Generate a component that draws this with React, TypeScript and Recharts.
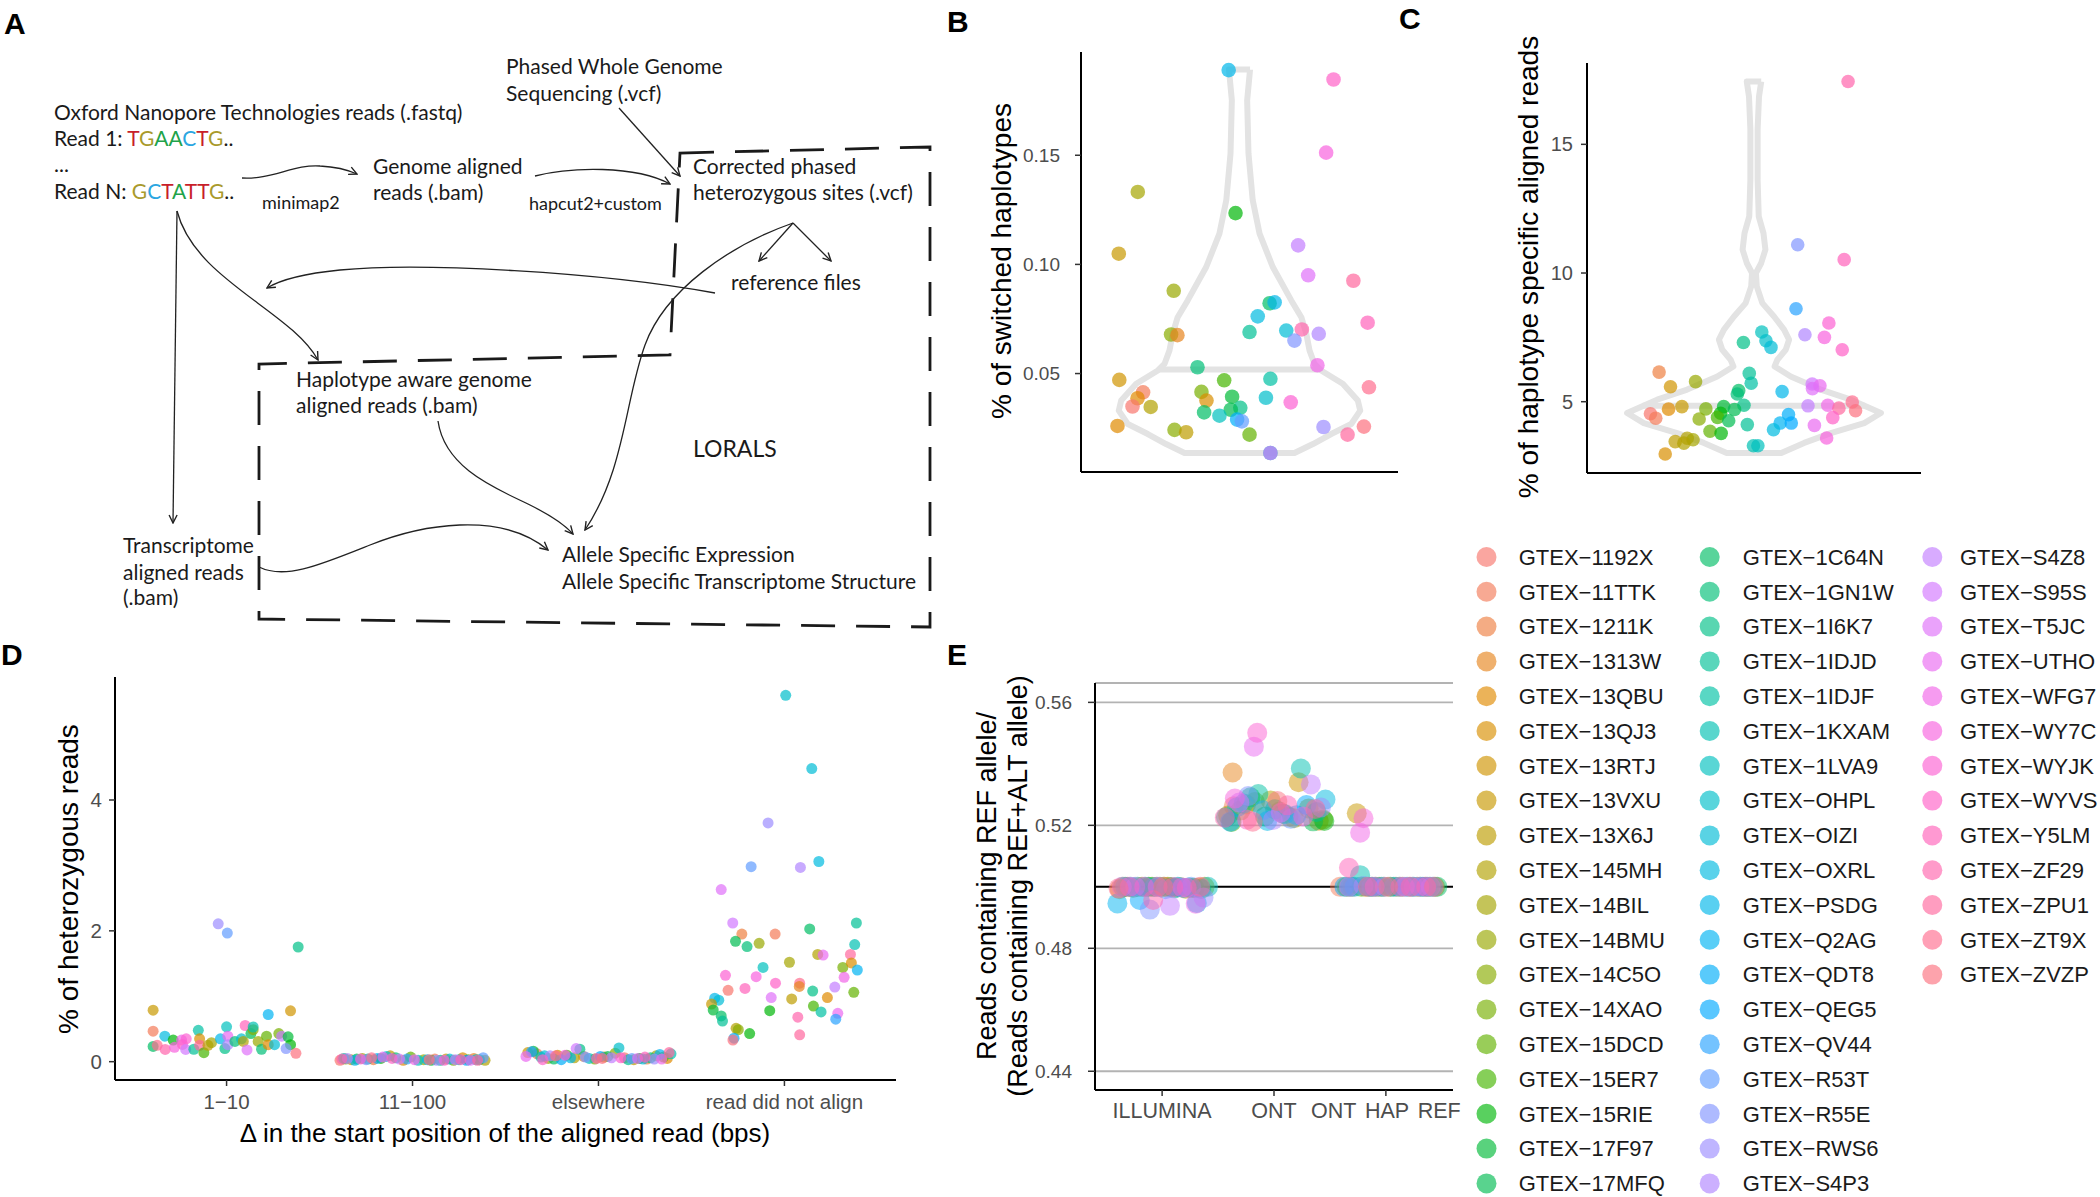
import React from "react";
import {
  ScatterChart,
  Scatter,
  XAxis,
  YAxis,
  CartesianGrid,
  ReferenceLine,
} from "recharts";

// ---------------------------------------------------------------------------
// Shared style tokens
// ---------------------------------------------------------------------------

const FONT = "'Liberation Sans', Arial, Helvetica, sans-serif";
const DIAGRAM_FONT = "Lato, 'Liberation Sans', Arial, sans-serif";
const TICK_GRAY = "#4d4d4d";
const VIOLIN_GRAY = "#e3e3e3";
const AXIS_LINE = { stroke: "#000", strokeWidth: 2 };
const TICK_LINE = { stroke: "#333", strokeWidth: 1.5 };

// ---------------------------------------------------------------------------
// Data
// ---------------------------------------------------------------------------

const SAMPLES = [
  "GTEX-1192X", "GTEX-11TTK", "GTEX-1211K", "GTEX-1313W", "GTEX-13QBU", "GTEX-13QJ3", "GTEX-13RTJ",
  "GTEX-13VXU", "GTEX-13X6J", "GTEX-145MH", "GTEX-14BIL", "GTEX-14BMU", "GTEX-14C5O", "GTEX-14XAO",
  "GTEX-15DCD", "GTEX-15ER7", "GTEX-15RIE", "GTEX-17F97", "GTEX-17MFQ",
  "GTEX-1C64N", "GTEX-1GN1W", "GTEX-1I6K7", "GTEX-1IDJD", "GTEX-1IDJF", "GTEX-1KXAM", "GTEX-1LVA9",
  "GTEX-OHPL", "GTEX-OIZI", "GTEX-OXRL", "GTEX-PSDG", "GTEX-Q2AG", "GTEX-QDT8", "GTEX-QEG5",
  "GTEX-QV44", "GTEX-R53T", "GTEX-R55E", "GTEX-RWS6", "GTEX-S4P3",
  "GTEX-S4Z8", "GTEX-S95S", "GTEX-T5JC", "GTEX-UTHO", "GTEX-WFG7", "GTEX-WY7C", "GTEX-WYJK",
  "GTEX-WYVS", "GTEX-Y5LM", "GTEX-ZF29", "GTEX-ZPU1", "GTEX-ZT9X", "GTEX-ZVZP",
];
const LEGEND_COLUMN_SIZES = [19, 19, 13];

// Panel B: [x jitter, % switched haplotypes, sample]
const B_POINTS = [
  [0.959, 0.189, 29], [1.356, 0.1847, 45], [1.328, 0.1512, 43], [0.615, 0.1332, 10], [0.985, 0.1235, 16],
  [0.543, 0.1049, 7], [1.222, 0.1087, 38], [1.26, 0.095, 40], [1.431, 0.0925, 48], [0.751, 0.0879, 11],
  [1.114, 0.0822, 19], [1.133, 0.0826, 29], [1.069, 0.0762, 28], [1.485, 0.0733, 46], [0.741, 0.0679, 12],
  [0.765, 0.0676, 3], [1.038, 0.069, 22], [1.177, 0.0697, 27], [1.236, 0.0702, 47], [1.208, 0.0651, 35],
  [1.3, 0.0682, 37], [0.841, 0.0529, 20], [1.295, 0.0538, 42], [0.545, 0.0471, 6], [0.942, 0.0469, 15],
  [1.117, 0.0476, 23], [1.49, 0.0437, 49], [0.635, 0.0414, 1], [0.856, 0.0416, 13], [0.614, 0.0387, 4],
  [0.875, 0.0376, 5], [0.972, 0.0394, 17], [1.1, 0.0389, 26], [1.194, 0.0368, 44], [0.595, 0.0349, 0],
  [0.664, 0.0347, 9], [1.003, 0.0343, 21], [0.967, 0.0334, 18], [0.866, 0.0322, 19], [0.924, 0.0307, 25],
  [0.991, 0.0289, 31], [1.009, 0.0281, 34], [0.538, 0.026, 4], [1.318, 0.0255, 36], [1.471, 0.0257, 50],
  [0.754, 0.0242, 12], [0.798, 0.0231, 8], [1.409, 0.022, 48], [1.038, 0.022, 14], [1.117, 0.0136, 24],
  [1.117, 0.0136, 39],
];
// violin outline: [y, half width]
const B_VIOLIN = [
  [0.1893, 0.04], [0.1752, 0.029], [0.1508, 0.034], [0.1294, 0.05], [0.1141, 0.076], [0.0988, 0.126],
  [0.0835, 0.196], [0.0758, 0.234], [0.0682, 0.253], [0.0606, 0.265], [0.0544, 0.284], [0.0514, 0.309],
  [0.0453, 0.391], [0.0376, 0.448], [0.033, 0.457], [0.0269, 0.423], [0.0223, 0.347], [0.0177, 0.278],
  [0.0136, 0.208],
];
const B_MEDIAN = [0.0518, 0.305];
const B_TICKS = [0.05, 0.1, 0.15];

// Panel C: [x jitter, % haplotype specific aligned reads, sample]
const C_POINTS = [
  [1.338, 17.44, 47], [1.157, 11.1, 35], [1.324, 10.52, 46], [1.151, 8.61, 33], [1.269, 8.06, 44],
  [1.028, 7.71, 25], [1.183, 7.6, 37], [1.253, 7.5, 43], [1.043, 7.37, 26], [0.962, 7.3, 21],
  [1.061, 7.11, 27], [1.317, 7.02, 45], [0.659, 6.15, 2], [0.983, 6.1, 22], [0.79, 5.78, 11],
  [0.99, 5.72, 23], [0.7, 5.58, 6], [1.209, 5.69, 39], [1.237, 5.62, 41], [1.21, 5.51, 40],
  [0.945, 5.43, 19], [0.94, 5.3, 20], [1.101, 5.39, 29], [1.353, 4.99, 49], [1.365, 4.65, 50],
  [0.741, 4.81, 7], [1.194, 4.84, 38], [1.265, 4.86, 42], [1.305, 4.75, 48], [0.964, 4.86, 21],
  [0.891, 4.81, 17], [0.827, 4.72, 13], [0.693, 4.71, 4], [0.93, 4.7, 18], [0.628, 4.53, 0],
  [1.283, 4.38, 45], [0.647, 4.36, 1], [0.88, 4.55, 16], [0.869, 4.39, 15], [1.124, 4.5, 31],
  [0.909, 4.26, 18], [0.803, 4.33, 12], [1.094, 4.17, 30], [1.134, 4.17, 32], [0.976, 4.11, 22],
  [1.217, 4.08, 41], [1.07, 3.91, 28], [0.842, 3.85, 14], [0.882, 3.77, 16], [1.261, 3.59, 43],
  [0.76, 3.58, 9], [0.781, 3.52, 10], [0.717, 3.45, 8], [0.748, 3.39, 9], [0.998, 3.29, 24],
  [1.014, 3.29, 25], [0.681, 2.97, 5],
];
const C_VIOLIN = [
  [17.44, 0.026], [16.86, 0.018], [15.57, 0.013], [13.63, 0.013], [12.2, 0.017], [11.55, 0.034],
  [10.91, 0.041], [10.39, 0.026], [10.0, 0.007], [9.48, 0.01], [8.83, 0.03], [8.31, 0.072],
  [7.8, 0.108], [7.41, 0.126], [7.02, 0.114], [6.63, 0.084], [6.37, 0.074], [5.98, 0.132],
  [5.47, 0.24], [5.08, 0.348], [4.56, 0.456], [4.17, 0.396], [3.78, 0.276], [3.4, 0.18], [3.01, 0.098],
];
const C_MEDIAN = [4.84, 0.4];
const C_TICKS = [5, 10, 15];

// Panel D categories
const D_CATEGORIES = ["1\u221210", "11\u2212100", "elsewhere", "read did not align"];
const D_TICKS = [0, 2, 4];
// "1-10": [x jitter, %, sample]
const D_NEAR = [
  [0.605, 0.787, 7], [0.605, 0.467, 1], [0.605, 0.233, 19], [0.627, 0.25, 49], [0.668, 0.39, 28],
  [0.67, 0.188, 47], [0.713, 0.33, 16], [0.72, 0.22, 43], [0.758, 0.33, 42], [0.763, 0.264, 45],
  [0.78, 0.188, 39], [0.783, 0.35, 44], [0.824, 0.19, 22], [0.848, 0.48, 23], [0.855, 0.35, 5],
  [0.855, 0.25, 48], [0.878, 0.137, 15], [0.9, 0.25, 8], [0.919, 0.29, 10], [0.955, 2.108, 36],
  [0.967, 0.35, 29], [0.991, 0.2, 21], [1.0, 0.533, 25], [1.004, 1.966, 34], [1.007, 0.39, 41],
  [1.007, 0.26, 37], [1.045, 0.31, 20], [1.08, 0.35, 26], [1.09, 0.31, 9], [1.1, 0.553, 46],
  [1.11, 0.18, 40], [1.131, 0.43, 18], [1.143, 0.49, 12], [1.143, 0.53, 24], [1.17, 0.31, 11],
  [1.188, 0.19, 20], [1.215, 0.39, 14], [1.224, 0.721, 30], [1.224, 0.26, 4], [1.258, 0.26, 27],
  [1.281, 0.43, 13], [1.296, 0.39, 38], [1.331, 0.38, 17], [1.344, 0.777, 6], [1.344, 0.26, 16],
  [1.32, 0.2, 35], [1.373, 0.127, 50], [1.385, 1.753, 21],
];
// "11-100": jitter offsets and values, one per sample
const D_MID_X = [
  -0.39, 0.12, -0.21, 0.33, -0.05, 0.27, -0.33, 0.18, -0.12, 0.39,
  -0.27, 0.06, -0.36, 0.22, -0.01, 0.3, -0.17, 0.1, -0.3, 0.36,
  -0.09, 0.15, -0.24, 0.25, -0.37, 0.03, 0.34, -0.14, 0.2, -0.31,
  0.08, -0.19, 0.29, -0.03, 0.38, -0.25, 0.13, -0.35, 0.23, -0.07,
  0.31, -0.16, 0.01, -0.28, 0.17, -0.11, 0.26, -0.38, 0.35, -0.22, 0.09,
];
const D_MID_Y = [
  0.02, 0.04, 0.03, 0.05, 0.02, 0.06, 0.03, 0.04, 0.09, 0.02,
  0.05, 0.03, 0.04, 0.02, 0.07, 0.03, 0.05, 0.02, 0.04, 0.03,
  0.06, 0.02, 0.04, 0.03, 0.05, 0.02, 0.03, 0.08, 0.04, 0.02,
  0.03, 0.05, 0.02, 0.04, 0.06, 0.03, 0.02, 0.05, 0.03, 0.04,
  0.02, 0.07, 0.03, 0.04, 0.02, 0.05, 0.03, 0.04, 0.02, 0.06, 0.03,
];
// "elsewhere"
const D_ELSE_X = [
  0.14, -0.33, 0.26, -0.08, 0.37, -0.22, 0.03, -0.38, 0.19, -0.13,
  0.31, -0.27, 0.09, -0.02, 0.35, -0.17, 0.22, -0.35, 0.05, -0.24,
  0.28, -0.1, 0.16, -0.31, 0.39, -0.05, 0.11, -0.29, 0.24, -0.15,
  0.33, -0.2, 0.01, -0.36, 0.18, -0.07, 0.3, -0.26, 0.07, -0.12,
  0.21, -0.39, 0.34, -0.18, 0.12, -0.3, 0.25, -0.01, 0.38, -0.23, 0.02,
];
const D_ELSE_Y = [
  0.06, 0.12, 0.04, 0.08, 0.05, 0.1, 0.07, 0.14, 0.03, 0.06,
  0.09, 0.05, 0.13, 0.04, 0.07, 0.1, 0.05, 0.16, 0.08, 0.04,
  0.06, 0.19, 0.03, 0.07, 0.12, 0.05, 0.21, 0.09, 0.04, 0.06,
  0.11, 0.03, 0.08, 0.15, 0.05, 0.07, 0.04, 0.09, 0.06, 0.2,
  0.05, 0.08, 0.04, 0.1, 0.06, 0.03, 0.07, 0.05, 0.14, 0.09, 0.05,
];
// "read did not align": [x jitter, %, sample]
const D_UNALIGNED = [
  [4.007, 5.6, 26], [4.147, 4.48, 27], [3.912, 3.65, 36], [3.821, 2.98, 34], [4.086, 2.97, 37],
  [4.185, 3.06, 28], [3.66, 2.63, 40], [3.722, 2.12, 39], [3.771, 1.95, 2], [3.95, 1.95, 1],
  [3.737, 1.84, 18], [3.799, 1.76, 20], [3.864, 1.81, 11], [4.136, 2.03, 19], [4.387, 2.12, 22],
  [4.378, 1.79, 24], [4.179, 1.64, 9], [4.208, 1.63, 41], [4.355, 1.64, 48], [4.027, 1.52, 10],
  [4.314, 1.44, 13], [4.36, 1.51, 5], [4.392, 1.4, 30], [3.885, 1.44, 25], [3.683, 1.32, 44],
  [3.848, 1.3, 43], [4.321, 1.29, 42], [3.952, 1.2, 45], [4.082, 1.2, 49], [4.08, 1.15, 3],
  [3.697, 1.09, 0], [3.788, 1.12, 46], [4.152, 1.08, 21], [4.271, 1.14, 38], [4.373, 1.06, 14],
  [3.929, 0.98, 40], [4.039, 0.96, 8], [4.231, 0.98, 4], [3.625, 0.97, 29], [3.647, 0.94, 27],
  [3.608, 0.88, 7], [4.156, 0.85, 15], [3.617, 0.79, 17], [3.921, 0.78, 16], [4.197, 0.76, 23],
  [4.287, 0.74, 41], [3.66, 0.7, 19], [4.072, 0.68, 47], [4.276, 0.65, 33], [3.667, 0.62, 22],
  [3.74, 0.51, 9], [3.752, 0.49, 12], [3.813, 0.43, 16], [3.729, 0.36, 31], [3.723, 0.33, 50],
  [4.082, 0.41, 48],
];

// Panel E: REF / (REF + ALT)
const E_CATEGORIES = ["ILLUMINA", "ONT", "ONT HAP REF"];
const E_TICKS = [0.44, 0.48, 0.52, 0.56];
const E_ILLUMINA_X = [
  -0.31, 0.12, -0.05, 0.27, -0.38, 0.05, 0.33, -0.18, 0.21, -0.09,
  0.38, -0.26, 0.02, 0.16, -0.35, 0.29, -0.12, 0.08, -0.22, 0.35,
  -0.02, 0.24, -0.33, 0.11, -0.15, 0.41, -0.07, 0.19, -0.28, 0.31,
  -0.4, 0.14, -0.2, 0.03, 0.26, -0.11, 0.37, -0.24, 0.07, -0.36,
  0.18, -0.04, 0.3, -0.16, 0.22, -0.29, 0.1, -0.08, 0.34, -0.39, 0.01,
];
const E_ILLUMINA_Y = [
  0.5, 0.4998, 0.5, 0.4996, 0.4992, 0.5, 0.4998, 0.5, 0.4994, 0.5,
  0.5, 0.4997, 0.5, 0.4999, 0.5, 0.4996, 0.5, 0.4999, 0.5, 0.4993,
  0.5, 0.4998, 0.5, 0.4995, 0.5, 0.5, 0.4999, 0.4996, 0.5, 0.4947,
  0.4946, 0.5, 0.4957, 0.4992, 0.5, 0.4926, 0.4965, 0.5, 0.4938, 0.5,
  0.4998, 0.5, 0.4945, 0.5, 0.4997, 0.5, 0.4999, 0.4957, 0.5, 0.4995, 0.5,
];
const E_ONT_X = [
  0.05, -0.36, 0.13, -0.37, 0.4, -0.25, 0.22, -0.41, 0.31, -0.03,
  0.18, -0.3, 0.44, -0.17, 0.08, -0.38, 0.45, -0.08, 0.35, -0.21,
  0.01, -0.43, 0.38, -0.14, 0.24, -0.27, 0.1, -0.33, 0.46, -0.06,
  0.2, -0.39, 0.29, -0.1, 0.15, -0.23, 0.42, -0.01, 0.33, -0.31,
  0.06, -0.18, 0.26, -0.35, -0.15, -0.24, 0.12, -0.44, 0.37, -0.19, 0.03,
];
const E_ONT_Y = [
  0.5245, 0.5262, 0.5228, 0.5372, 0.5215, 0.5268, 0.534, 0.5232, 0.5255, 0.5281,
  0.5223, 0.5248, 0.5219, 0.5276, 0.5238, 0.5211, 0.5214, 0.5229, 0.5213, 0.5291,
  0.5252, 0.5226, 0.5243, 0.5302, 0.5385, 0.5271, 0.5236, 0.5259, 0.5284, 0.5214,
  0.5233, 0.5212, 0.5266, 0.5249, 0.5221, 0.5295, 0.5258, 0.5217, 0.5333, 0.5274,
  0.5241, 0.5456, 0.5229, 0.5287, 0.5501, 0.5218, 0.5265, 0.5225, 0.5253, 0.5212, 0.5279,
];
const E_HAP_X = [
  -0.3, -0.41, 0.21, -0.06, 0.35, -0.18, 0.09, -0.26, 0.44, -0.12,
  0.28, -0.35, 0.15, -0.02, 0.39, -0.22, 0.04, 0.31, -0.09, 0.46,
  -0.15, 0.24, -0.32, 0.12, -0.23, 0.37, -0.04, 0.19, -0.28, 0.42,
  0.07, -0.37, 0.33, -0.13, 0.25, -0.2, 0.4, -0.01, 0.17, -0.33,
  0.3, -0.1, -0.23, -0.2, 0.13, 0.36, -0.33, 0.22, -0.16, 0.43, 0.02,
];
const E_HAP_Y = [
  0.5, 0.5, 0.5, 0.5, 0.5, 0.5, 0.5, 0.5239, 0.5, 0.5,
  0.5, 0.5, 0.5, 0.5, 0.5, 0.5, 0.5, 0.5, 0.5, 0.5,
  0.5, 0.5, 0.5, 0.5, 0.5038, 0.5, 0.5, 0.5, 0.5, 0.5,
  0.5, 0.5, 0.5, 0.5, 0.5, 0.5003, 0.5, 0.5, 0.5, 0.5,
  0.5, 0.5, 0.5176, 0.5223, 0.5, 0.5, 0.5062, 0.5, 0.5, 0.5, 0.5,
];

// ---------------------------------------------------------------------------
// Helpers
// ---------------------------------------------------------------------------

// ggplot2 default hue palette (hcl, c = 100, l = 65)
function hclToHex(h: number, c: number, l: number): string {
  const hr = (h * Math.PI) / 180;
  const U = c * Math.cos(hr);
  const V = c * Math.sin(hr);
  const Xn = 95.047, Yn = 100, Zn = 108.883;
  const Y = l > 7.999592 ? Yn * Math.pow((l + 16) / 116, 3) : (Yn * l) / 903.3;
  const t = Xn + 15 * Yn + 3 * Zn;
  const u = U / (13 * l) + (4 * Xn) / t;
  const v = V / (13 * l) + (9 * Yn) / t;
  const X = (9 * Y * u) / (4 * v);
  const Z = -X / 3 - 5 * Y + (3 * Y) / v;
  const x = X / 100, y = Y / 100, z = Z / 100;
  const lin = [
    3.240479 * x - 1.53715 * y - 0.498535 * z,
    -0.969256 * x + 1.875992 * y + 0.041556 * z,
    0.055648 * x - 0.204043 * y + 1.057311 * z,
  ];
  return (
    "#" +
    lin
      .map((ch) => {
        const g = ch <= 0.0031308 ? 12.92 * ch : 1.055 * Math.pow(ch, 1 / 2.4) - 0.055;
        const n = Math.round(Math.min(1, Math.max(0, g)) * 255);
        return n.toString(16).padStart(2, "0");
      })
      .join("")
  );
}

const PALETTE = SAMPLES.map((_, i) => hclToHex(15 + (360 * i) / SAMPLES.length, 100, 65));

type Pt = { x: number; y: number; color: string };

const fromRows = (rows: number[][]): Pt[] =>
  rows.map(([x, y, s]) => ({ x, y, color: PALETTE[s] }));

const fromColumns = (center: number, xs: number[], ys: number[]): Pt[] =>
  xs.map((dx, s) => ({ x: center + dx, y: ys[s], color: PALETTE[s] }));

function violinOutline(rows: number[][]) {
  const right = rows.map(([y, w]) => ({ x: 1 + w, y }));
  const left = [...rows].reverse().map(([y, w]) => ({ x: 1 - w, y }));
  return [...right, ...left, right[0]];
}

const medianLine = ([y, w]: number[]) => [
  { x: 1 - w, y },
  { x: 1 + w, y },
];

const makeDot = (r: number, opacity: number) => (p: any) => {
  if (p.cx == null || p.cy == null) return <g />;
  return <circle cx={p.cx} cy={p.cy} r={r} fill={p.payload.color} fillOpacity={opacity} />;
};
const NoDot = () => <g />;

type Plot = { l: number; t: number; r: number; b: number };
const PAD = 16;
const Y_AXIS_W = 90;

function frameStyle(plot: Plot, xh: number) {
  return {
    left: plot.l - Y_AXIS_W - PAD,
    top: plot.t - PAD,
    width: plot.r - plot.l + Y_AXIS_W + 2 * PAD,
    height: plot.b - plot.t + xh + 2 * PAD,
  };
}

// ---------------------------------------------------------------------------
// B / C — violin with jittered samples
// ---------------------------------------------------------------------------

type ViolinPanelProps = {
  plot: Plot;
  yDomain: [number, number];
  yTicks: number[];
  tickFont: number;
  tickGap: number;
  digits: number;
  points: Pt[];
  outline: { x: number; y: number }[];
  median: { x: number; y: number }[];
  radius: number;
};

function ViolinPanel(props: ViolinPanelProps) {
  const { plot, yDomain, yTicks, tickFont, tickGap, digits, points, outline, median, radius } = props;
  const f = frameStyle(plot, 2);
  return (
    <div style={{ position: "absolute", left: f.left, top: f.top }}>
      <ScatterChart width={f.width} height={f.height} margin={{ top: PAD, right: PAD, bottom: PAD, left: PAD }}>
        <XAxis
          type="number"
          dataKey="x"
          domain={[0.4, 1.6]}
          allowDataOverflow
          tick={false}
          tickLine={false}
          axisLine={AXIS_LINE}
          height={2}
        />
        <YAxis
          type="number"
          dataKey="y"
          domain={yDomain}
          allowDataOverflow
          ticks={yTicks}
          interval={0}
          width={Y_AXIS_W}
          tickSize={6}
          tickMargin={tickGap}
          tickLine={TICK_LINE}
          axisLine={AXIS_LINE}
          tickFormatter={(v: number) => v.toFixed(digits)}
          tick={{ fontSize: tickFont, fill: TICK_GRAY, fontFamily: FONT }}
        />
        <Scatter
          data={outline}
          fill={VIOLIN_GRAY}
          line={{ stroke: VIOLIN_GRAY, strokeWidth: 6, strokeLinejoin: "round" }}
          shape={NoDot}
          isAnimationActive={false}
        />
        <Scatter
          data={median}
          fill={VIOLIN_GRAY}
          line={{ stroke: VIOLIN_GRAY, strokeWidth: 6 }}
          shape={NoDot}
          isAnimationActive={false}
        />
        <Scatter data={points} shape={makeDot(radius, 0.7)} isAnimationActive={false} />
      </ScatterChart>
    </div>
  );
}

// ---------------------------------------------------------------------------
// D — heterozygous reads by start-position shift
// ---------------------------------------------------------------------------

const D_PLOT: Plot = { l: 115, t: 677, r: 896, b: 1080 };

function PanelD() {
  const f = frameStyle(D_PLOT, 40);
  const points = [
    ...fromRows(D_NEAR),
    ...fromColumns(2, D_MID_X, D_MID_Y),
    ...fromColumns(3, D_ELSE_X, D_ELSE_Y),
    ...fromRows(D_UNALIGNED),
  ];
  return (
    <div style={{ position: "absolute", left: f.left, top: f.top }}>
      <ScatterChart width={f.width} height={f.height} margin={{ top: PAD, right: PAD, bottom: PAD, left: PAD }}>
        <XAxis
          type="number"
          dataKey="x"
          domain={[0.4, 4.6]}
          allowDataOverflow
          ticks={[1, 2, 3, 4]}
          interval={0}
          tickFormatter={(v: number) => D_CATEGORIES[v - 1]}
          tickSize={6}
          tickMargin={8}
          tickLine={TICK_LINE}
          axisLine={AXIS_LINE}
          height={40}
          tick={{ fontSize: 20.5, fill: TICK_GRAY, fontFamily: FONT }}
        />
        <YAxis
          type="number"
          dataKey="y"
          domain={[-0.28, 5.88]}
          allowDataOverflow
          ticks={D_TICKS}
          interval={0}
          width={Y_AXIS_W}
          tickSize={6}
          tickMargin={7}
          tickLine={TICK_LINE}
          axisLine={AXIS_LINE}
          tick={{ fontSize: 20.5, fill: TICK_GRAY, fontFamily: FONT }}
        />
        <Scatter data={points} shape={makeDot(5.5, 0.7)} isAnimationActive={false} />
      </ScatterChart>
    </div>
  );
}

// ---------------------------------------------------------------------------
// E — allelic ratio per technology
// ---------------------------------------------------------------------------

const E_PLOT: Plot = { l: 1095, t: 683, r: 1453, b: 1090 };

function PanelE() {
  const f = frameStyle(E_PLOT, 40);
  const points = [
    ...fromColumns(1, E_ILLUMINA_X, E_ILLUMINA_Y),
    ...fromColumns(2, E_ONT_X, E_ONT_Y),
    ...fromColumns(3, E_HAP_X, E_HAP_Y),
  ];
  return (
    <div style={{ position: "absolute", left: f.left, top: f.top }}>
      <ScatterChart width={f.width} height={f.height} margin={{ top: PAD, right: PAD, bottom: PAD, left: PAD }}>
        <CartesianGrid horizontal vertical={false} stroke="#b3b3b3" strokeWidth={1.8} />
        <XAxis
          type="number"
          dataKey="x"
          domain={[0.4, 3.6]}
          allowDataOverflow
          ticks={[1, 2, 3]}
          interval={0}
          tickFormatter={(v: number) => E_CATEGORIES[v - 1]}
          tickSize={6}
          tickMargin={7}
          tickLine={TICK_LINE}
          axisLine={AXIS_LINE}
          height={40}
          tick={{ fontSize: 21.5, fill: TICK_GRAY, fontFamily: FONT, wordSpacing: 3 }}
        />
        <YAxis
          type="number"
          dataKey="y"
          domain={[0.4339, 0.5663]}
          allowDataOverflow
          ticks={E_TICKS}
          interval={0}
          width={Y_AXIS_W}
          tickSize={7}
          tickMargin={16}
          tickLine={TICK_LINE}
          axisLine={AXIS_LINE}
          tickFormatter={(v: number) => v.toFixed(2)}
          tick={{ fontSize: 19, fill: TICK_GRAY, fontFamily: FONT }}
        />
        <Scatter data={points} shape={makeDot(10, 0.5)} isAnimationActive={false} />
        <ReferenceLine y={0.5} stroke="#000" strokeWidth={2} />
      </ScatterChart>
    </div>
  );
}

// ---------------------------------------------------------------------------
// Annotation layer: workflow diagram (A), panel letters, axis titles, legend
// ---------------------------------------------------------------------------

const BASE_COLORS: Record<string, string> = { A: "#1fa34a", C: "#2ba6e1", G: "#a99a2c", T: "#c81e2a" };

function Sequence({ x, y, label, seq }: { x: number; y: number; label: string; seq: string }) {
  return (
    <text x={x} y={y}>
      {label}
      {seq.split("").map((b, i) => (
        <tspan key={i} fill={BASE_COLORS[b]}>
          {b}
        </tspan>
      ))}
      ..
    </text>
  );
}

function RotatedTitle({ cx, cy, lines, size }: { cx: number; cy: number; lines: string[]; size: number }) {
  const gap = size * 1.12;
  return (
    <g fontFamily={FONT} fontSize={size} fill="#000" textAnchor="middle">
      {lines.map((t, i) => (
        <text
          key={i}
          transform={`translate(${cx + (i - (lines.length - 1) / 2) * gap},${cy}) rotate(-90)`}
          dy="0.355em"
        >
          {t}
        </text>
      ))}
    </g>
  );
}

function Diagram() {
  const arrow = { fill: "none", stroke: "#222", strokeWidth: 1.3, markerEnd: "url(#head)" };
  return (
    <g fontFamily={DIAGRAM_FONT} fontSize={21} fill="#1a1a1a">
      <defs>
        <marker
          id="head"
          viewBox="0 0 10 10"
          refX="9"
          refY="5"
          markerWidth="10"
          markerHeight="10"
          markerUnits="userSpaceOnUse"
          orient="auto"
        >
          <path d="M1,1 L9,5 L1,9" fill="none" stroke="#222" strokeWidth="1.4" />
        </marker>
      </defs>

      {/* LORALS dashed region */}
      <path
        d="M680,153 L930,147 L930,627 L259,619 L259,364 L670,355 Z"
        fill="none"
        stroke="#1a1a1a"
        strokeWidth={2.8}
        strokeDasharray="34 21"
      />

      <text x={506} y={74}>Phased Whole Genome</text>
      <text x={506} y={101}>Sequencing (.vcf)</text>
      <text x={54} y={120}>Oxford Nanopore Technologies reads (.fastq)</text>
      <Sequence x={54} y={146} label="Read 1: " seq="TGAACTG" />
      <text x={54} y={172}>...</text>
      <Sequence x={54} y={199} label="Read N: " seq="GCTATTG" />
      <text x={262} y={209} fontSize={18}>minimap2</text>
      <text x={373} y={174}>Genome aligned</text>
      <text x={373} y={200}>reads (.bam)</text>
      <text x={529} y={210} fontSize={18}>hapcut2+custom</text>
      <text x={693} y={174}>Corrected phased</text>
      <text x={693} y={200}>heterozygous sites (.vcf)</text>
      <text x={731} y={290}>reference files</text>
      <text x={296} y={387}>Haplotype aware genome</text>
      <text x={296} y={413}>aligned reads (.bam)</text>
      <text x={693} y={457} fontSize={23}>LORALS</text>
      <text x={123} y={553}>Transcriptome</text>
      <text x={123} y={580}>aligned reads</text>
      <text x={123} y={605}>(.bam)</text>
      <text x={562} y={562}>Allele Specific Expression</text>
      <text x={562} y={589}>Allele Specific Transcriptome Structure</text>

      <path d="M242,178 C270,180 295,164 320,166 C338,167 348,170 357,174" {...arrow} />
      <path d="M535,176 C570,167 635,165 670,184" {...arrow} />
      <path d="M619,108 L680,176" {...arrow} />
      <path d="M793,223 L759,261" {...arrow} />
      <path d="M793,223 L831,261" {...arrow} />
      <path d="M793,223 C730,245 665,290 645,345 C625,400 625,470 585,530" {...arrow} />
      <path d="M715,293 C600,272 420,262 340,270 C300,274 280,280 267,288" {...arrow} />
      <path d="M177,211 C195,280 290,310 318,360" {...arrow} />
      <path d="M177,211 L173,523" {...arrow} />
      <path d="M438,421 C445,470 500,490 530,505 C550,515 565,525 573,534" {...arrow} />
      <path d="M259,567 C285,580 320,565 370,545 C420,525 500,510 548,550" {...arrow} />
    </g>
  );
}

const LEGEND_KEY_X = [1486.5, 1709.7, 1932.3];
const LEGEND_TEXT_X = [1518.7, 1742.7, 1960];
const LEGEND_TOP = 557;
const LEGEND_STEP = 34.8;

function SampleLegend() {
  let offset = 0;
  const cols = LEGEND_COLUMN_SIZES.map((n) => {
    const idx = Array.from({ length: n }, (_, k) => offset + k);
    offset += n;
    return idx;
  });
  return (
    <g fontFamily={FONT} fontSize={22} fill="#1a1a1a">
      {cols.map((col, c) =>
        col.map((s, row) => {
          const cy = LEGEND_TOP + row * LEGEND_STEP;
          return (
            <g key={s}>
              <circle cx={LEGEND_KEY_X[c]} cy={cy} r={10} fill={PALETTE[s]} fillOpacity={0.65} />
              <text x={LEGEND_TEXT_X[c]} y={cy} dy="0.355em">
                {SAMPLES[s].replace("-", "\u2212")}
              </text>
            </g>
          );
        })
      )}
    </g>
  );
}

function Annotations() {
  return (
    <svg
      width={2100}
      height={1197}
      style={{ position: "absolute", left: 0, top: 0, pointerEvents: "none", overflow: "visible" }}
    >
      <g fontFamily={FONT} fontSize={30} fontWeight="bold" fill="#000">
        <text x={4} y={34}>A</text>
        <text x={947} y={32}>B</text>
        <text x={1399} y={29}>C</text>
        <text x={1} y={665}>D</text>
        <text x={947} y={665}>E</text>
      </g>
      <Diagram />
      <RotatedTitle cx={1001} cy={261} lines={["% of switched haplotypes"]} size={28} />
      <RotatedTitle cx={1528} cy={267} lines={["% of haplotype specific aligned reads"]} size={28} />
      <RotatedTitle cx={68} cy={879} lines={["% of heterozygous reads"]} size={28} />
      <RotatedTitle
        cx={1002}
        cy={886}
        lines={["Reads containing REF allele/", "(Reads containing REF+ALT allele)"]}
        size={27}
      />
      <text x={505} y={1142} fontFamily={FONT} fontSize={26} textAnchor="middle" fill="#000">
        {"\u0394 in the start position of the aligned read (bps)"}
      </text>
      <SampleLegend />
    </svg>
  );
}

// ---------------------------------------------------------------------------
// App
// ---------------------------------------------------------------------------

export default function App() {
  const bPoints = fromRows(B_POINTS);
  const cPoints = fromRows(C_POINTS);
  return (
    <div
      style={{
        position: "absolute",
        left: 0,
        top: 0,
        width: 2100,
        height: 1197,
        background: "#fff",
        fontFamily: FONT,
        overflow: "hidden",
      }}
    >
      <ViolinPanel
        plot={{ l: 1081, t: 52, r: 1398, b: 472 }}
        yDomain={[0.0049, 0.1973]}
        yTicks={B_TICKS}
        tickFont={19}
        tickGap={15}
        digits={2}
        points={bPoints}
        outline={violinOutline(B_VIOLIN)}
        median={medianLine(B_MEDIAN)}
        radius={7.3}
      />
      <ViolinPanel
        plot={{ l: 1587, t: 63, r: 1921, b: 473 }}
        yDomain={[2.23, 18.16]}
        yTicks={C_TICKS}
        tickFont={20}
        tickGap={8}
        digits={0}
        points={cPoints}
        outline={violinOutline(C_VIOLIN)}
        median={medianLine(C_MEDIAN)}
        radius={6.8}
      />
      <PanelD />
      <PanelE />
      <Annotations />
    </div>
  );
}
